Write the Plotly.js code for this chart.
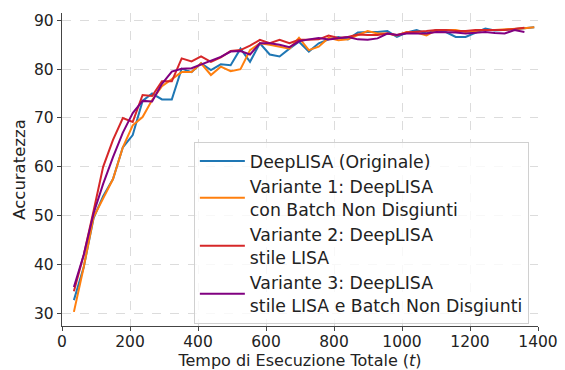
<!DOCTYPE html>
<html>
<head>
<meta charset="utf-8">
<script src="https://cdn.plot.ly/plotly-3.0.1.min.js"></script>
<style>html,body{margin:0;padding:0;background:#fff;}#chart{width:565px;height:370px;}</style>
</head>
<body>
<div id="chart"></div>
<script>
const seriesNames = [
  "DeepLISA (Originale)",
  "Variante 1: DeepLISA<br>con Batch Non Disgiunti",
  "Variante 2: DeepLISA<br>stile LISA",
  "Variante 3: DeepLISA<br>stile LISA e Batch Non Disgiunti"
];
const seriesColors = ["#1f77b4", "#ff7f0e", "#d62728", "#800080"];

const timeOriginale = [35, 64, 93, 121, 150, 179, 208, 237, 265, 294, 323, 352, 381, 409, 438, 467, 496, 525, 553, 582, 611, 640, 669, 697, 726, 755, 784, 813, 841, 870, 899, 928, 957, 985, 1014, 1043, 1072, 1101, 1129, 1158, 1187, 1216, 1245, 1273, 1302, 1331, 1360, 1389];
const accOriginale = [32.7, 39.5, 49.5, 54, 57.5, 64, 66.5, 73.5, 75, 73.8, 73.8, 80.1, 79.4, 81.2, 79.8, 81, 80.8, 84.2, 81.5, 85.3, 83, 82.6, 84.2, 85.6, 83.6, 85.3, 86.1, 86.6, 86.1, 87.5, 87.6, 87.6, 87.8, 86.6, 87.5, 88, 87.3, 88, 87.6, 86.6, 86.6, 87.5, 88.3, 87.9, 88, 88.2, 88.4, 88.6];

const timeVariante1 = [35, 64, 93, 121, 150, 179, 208, 237, 265, 294, 323, 352, 381, 409, 438, 467, 496, 525, 553, 582, 611, 640, 669, 697, 726, 755, 784, 813, 841, 870, 899, 928, 957, 985, 1014, 1043, 1072, 1101, 1129, 1158, 1187, 1216, 1245, 1273, 1302, 1331, 1360, 1389];
const accVariante1 = [30.3, 39.5, 49.7, 53.5, 57.5, 64, 68.5, 70.2, 73.7, 76.5, 78, 79.4, 79.4, 81.2, 78.8, 80.5, 79.6, 80, 83.9, 85.3, 85, 84.6, 84.2, 86.4, 83.9, 84.6, 86.4, 85.9, 86.1, 87, 87.8, 87.3, 87.3, 86.9, 87.6, 87.5, 86.9, 88, 88, 88, 87.6, 87.8, 88, 88, 88.1, 88.3, 88.4, 88.6];

const timeVariante2 = [35, 64, 93, 121, 150, 179, 208, 237, 265, 294, 323, 352, 381, 409, 438, 467, 496, 525, 553, 582, 611, 640, 669, 697, 726, 755, 784, 813, 841, 870, 899, 928, 957, 985, 1014, 1043, 1072, 1101, 1129, 1158, 1187, 1216, 1245, 1273, 1302, 1331, 1360];
const accVariante2 = [34.5, 42, 51, 60, 65.5, 70, 69.2, 74.7, 74.5, 77.5, 77.5, 82.2, 81.6, 82.6, 81.5, 82.4, 83.7, 83.9, 84.8, 86, 85.3, 86, 85.3, 86, 86, 86.1, 86.9, 86.4, 86.6, 87.1, 87, 87, 87.3, 87, 87.5, 87.6, 87.8, 88, 88, 87.8, 87.8, 88, 88, 88, 88, 88.2, 88.5];

const timeVariante3 = [35, 64, 93, 121, 150, 179, 208, 237, 265, 294, 323, 352, 381, 409, 438, 467, 496, 525, 553, 582, 611, 640, 669, 697, 726, 755, 784, 813, 841, 870, 899, 928, 957, 985, 1014, 1043, 1072, 1101, 1129, 1158, 1187, 1216, 1245, 1273, 1302, 1331, 1360];
const accVariante3 = [35.4, 42, 50.5, 56.5, 62, 67, 71, 73.5, 73.4, 77, 79.5, 80.1, 80.2, 81, 81.7, 82.5, 83.6, 83.7, 83, 85.3, 85.3, 85, 84.5, 85.7, 86.1, 86.4, 86.1, 86.3, 86.6, 86.1, 86, 86.3, 87.3, 87, 87.3, 87.3, 87.3, 87.6, 87.6, 87.5, 87.3, 87.5, 87.6, 87.4, 87.3, 88, 87.6];

const xTicks = [0, 200, 400, 600, 800, 1000, 1200, 1400];
const yTicks = [30, 40, 50, 60, 70, 80, 90];

const xs = [timeOriginale, timeVariante1, timeVariante2, timeVariante3];
const ys = [accOriginale, accVariante1, accVariante2, accVariante3];

const traces = seriesNames.map((n, i) => ({
  type: "scatter", mode: "lines", name: n,
  x: xs[i], y: ys[i],
  line: {color: seriesColors[i], width: 2}
}));

const font = "DejaVu Sans, sans-serif";
const layout = {
  width: 565, height: 370,
  margin: {l: 62, r: 27, t: 13, b: 44},
  paper_bgcolor: "#fff", plot_bgcolor: "#fff",
  font: {family: font, size: 15, color: "#222"},
  showlegend: true,
  legend: {
    x: 0.277, y: 0.587, xanchor: "left", yanchor: "top",
    bgcolor: "rgba(255,255,255,0.8)", bordercolor: "#d0d0d0", borderwidth: 1,
    font: {family: font, size: 17.3, color: "#222"},
    itemwidth: 45,
    tracegroupgap: 0
  },
  xaxis: {
    range: [0, 1400], tickvals: xTicks, ticktext: xTicks.map(String),
    showgrid: true, gridcolor: "#dcdcdc", griddash: "dash", gridwidth: 1,
    zeroline: false, showline: true, linecolor: "#444", linewidth: 1.2,
    ticks: "outside", ticklen: 4, tickcolor: "#444",
    ticklabelstandoff: -3,
    tickfont: {family: font, size: 15.5, color: "#222"},
    title: {text: "Tempo di Esecuzione Totale (<i>t</i>)", font: {family: font, size: 16, color: "#222"}, standoff: 4}
  },
  yaxis: {
    range: [27.4, 91.5], tickvals: yTicks, ticktext: yTicks.map(String),
    showgrid: true, gridcolor: "#dcdcdc", griddash: "dash", gridwidth: 1,
    zeroline: false, showline: true, linecolor: "#444", linewidth: 1.2,
    ticks: "outside", ticklen: 4, tickcolor: "#444",
    tickfont: {family: font, size: 15.5, color: "#222"},
    title: {text: "Accuratezza", font: {family: font, size: 16.5, color: "#222"}, standoff: 4}
  }
};

Plotly.newPlot("chart", traces, layout, {displayModeBar: false, staticPlot: true});
</script>
</body>
</html>
